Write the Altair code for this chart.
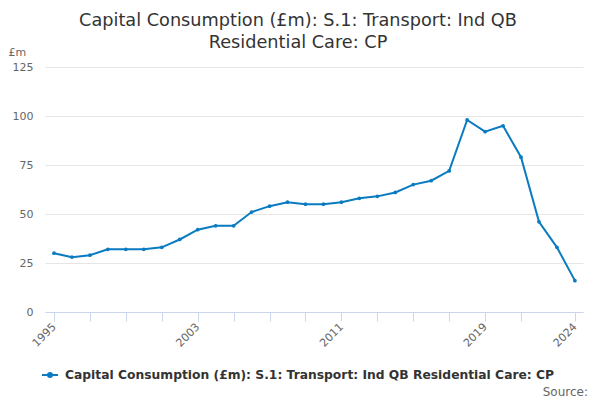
import altair as alt
import pandas as pd

years = list(range(1995, 2025))
values = [30, 28, 29, 32, 32, 32, 33, 37, 42, 44, 44, 51, 54, 56, 55, 55, 56, 58, 59, 61,
          65, 67, 72, 98, 92, 95, 79, 46, 33, 16]
series_name = "Capital Consumption (£m): S.1: Transport: Ind QB Residential Care: CP"
tick_years = [1995, 1997, 1999, 2001, 2003, 2005, 2007, 2009, 2011, 2013, 2015, 2017, 2019, 2021, 2024]
label_years = [1995, 2003, 2011, 2019, 2024]
y_ticks = [0, 25, 50, 75, 100, 125]

df = pd.DataFrame({"year": years, "value": values, "series": series_name})

FONT = "DejaVu Sans"
BLUE = "#0a7bc1"

label_expr = "indexof([" + ",".join(str(y) for y in label_years) + "], datum.value) >= 0 ? datum.value : ''"

line = alt.Chart(df).mark_line(
    strokeWidth=2,
    point=alt.OverlayMarkDef(filled=True, size=14, color=BLUE),
).encode(
    x=alt.X("year:Q",
            scale=alt.Scale(domain=[1994.5, 2024.45], nice=False, zero=False),
            axis=alt.Axis(values=tick_years, labelExpr=label_expr, labelAngle=-45,
                          labelAlign="right", labelBaseline="middle", labelPadding=4,
                          labelFontSize=11, labelColor="#666666", labelFont=FONT,
                          tickColor="#ccd6eb", tickSize=9, domainColor="#ccd6eb",
                          grid=False, title=None, labelOverlap=False, labelFlush=False)),
    y=alt.Y("value:Q",
            scale=alt.Scale(domain=[0, 125], nice=False),
            axis=alt.Axis(values=y_ticks, labelFontSize=11, labelColor="#666666", labelFont=FONT,
                          ticks=False, domain=False, gridColor="#e6e6e6", labelPadding=12,
                          title="£m", titleAngle=0, titleX=-37, titleY=-10, titleAlign="left",
                          titleFontWeight="normal", titleFontSize=11, titleColor="#666666",
                          titleFont=FONT)),
    color=alt.Color("series:N", scale=alt.Scale(range=[BLUE]),
                    legend=alt.Legend(orient="none", legendX=-4, legendY=299,
                                      title=None, labelFontSize=12.3, labelFontWeight="bold",
                                      labelColor="#333333", labelFont=FONT, labelLimit=600,
                                      labelOffset=6,
                                      symbolType="M-1,0L1,0M0,-0.25A0.25,0.25,0,1,1,0,0.25A0.25,0.25,0,1,1,0,-0.25",
                                      symbolStrokeWidth=2, symbolSize=256, symbolFillColor=BLUE,
                                      symbolStrokeColor=BLUE)),
)

source = alt.Chart(pd.DataFrame({"t": ["Source:"]})).mark_text(
    align="right", baseline="alphabetic", fontSize=12, color="#666666", font=FONT
).encode(x=alt.value(543), y=alt.value(329), text="t:N")

chart = alt.layer(line, source).properties(
    width=538, height=245,
    padding={"left": 37, "top": 59, "right": 9, "bottom": 88},
    autosize=alt.AutoSizeParams(type="none"),
    title=alt.TitleParams(["Capital Consumption (£m): S.1: Transport: Ind QB", "Residential Care: CP"],
                          anchor="middle", fontSize=17.7, fontWeight="normal", color="#333333",
                          font=FONT, lineHeight=22, offset=-6, dx=-16, frame="group"),
).configure_view(stroke=None)

chart.save("out.html", embed_options={"renderer": "svg", "actions": False})
